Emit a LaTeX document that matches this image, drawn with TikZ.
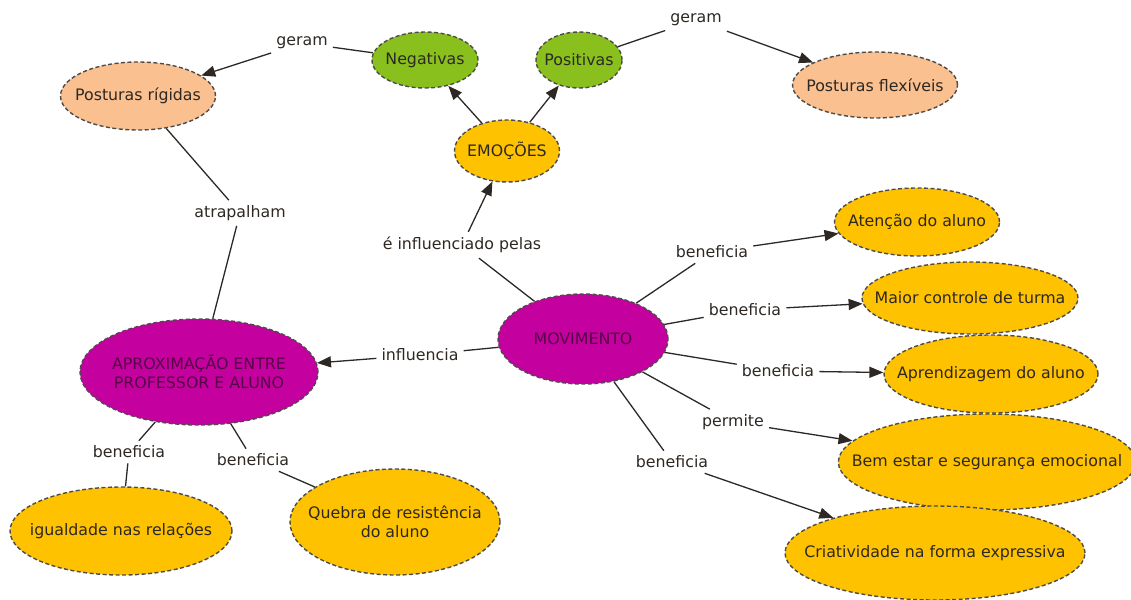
\documentclass[tikz,border=0pt]{standalone}
\usepackage{fontspec}
\setmainfont{DejaVu Sans}
\usetikzlibrary{shapes.geometric,arrows.meta}
\definecolor{peach}{RGB}{250,192,143}
\definecolor{leaf}{RGB}{138,192,30}
\definecolor{gold}{RGB}{255,194,0}
\definecolor{purp}{RGB}{196,0,158}
\definecolor{ink}{RGB}{45,40,35}
\tikzstyle{concept}=[ellipse, draw=black!70, dash pattern=on 4pt off 2.5pt,
line width=1.4pt, inner xsep=-30pt, inner ysep=-8pt, align=center, text=ink,
font=\fontsize{15.8}{19}\selectfont]
\tikzstyle{posture}=[concept, fill=peach]
\tikzstyle{emotion}=[concept, fill=leaf]
\tikzstyle{effect}=[concept, fill=gold]
\tikzstyle{core}=[concept, fill=purp, text={rgb,255:red,85;green,0;blue,70}]
\tikzstyle{linkword}=[inner sep=5pt, text=ink, font=\fontsize{15.8}{19}\selectfont]
\tikzstyle{tie}=[line width=1.3pt, draw=ink]
\tikzstyle{arr}=[tie, -{Triangle[length=14pt,width=11pt]}]

\begin{document}
\begin{tikzpicture}[x=1pt,y=-1pt]
\useasboundingbox (0,0) rectangle (1131,599);
% conceitos
\node[posture, minimum width=155, minimum height=68](rigid)at (138,96){Posturas rígidas};
\node[emotion, minimum width=106, minimum height=56](neg)at (425,60){Negativas};
\node[emotion, minimum width=86, minimum height=56](pos)at (579,60){Positivas};
\node[posture, minimum width=165, minimum height=66](flex)at (875,85){Posturas flexíveis};
\node[effect, minimum width=105, minimum height=62](emo)at (507,151){EMOÇÕES};
\node[core, minimum width=170, minimum height=90](mov)at (583,339){MOVIMENTO};
\node[core, minimum width=238, minimum height=106](aprox)at (199,372){APROXIMAÇÃO ENTRE\\PROFESSOR E ALUNO};
\node[effect, minimum width=165, minimum height=68](aten)at (917,222){Atenção do aluno};
\node[effect, minimum width=216, minimum height=72](contr)at (970,298){Maior controle de turma};
\node[effect, minimum width=214, minimum height=78](aprend)at (991,374){Aprendizagem do aluno};
\node[effect, minimum width=290, minimum height=96](bem)at (987,462){Bem estar e segurança emocional};
\node[effect, minimum width=300, minimum height=94](criat)at (935,553){Criatividade na forma expressiva};
\node[effect, minimum width=222, minimum height=88](igual)at (121,531){igualdade nas relações};
\node[effect, minimum width=210, minimum height=106](quebra)at (395,522){Quebra de resistência\\do aluno};

% palavras de ligacao
\node[linkword](l1)at (302,43){geram};
\node[linkword](l2)at (696,20){geram};
\node[linkword](l3)at (240,213){atrapalham};
\node[linkword](l4)at (462,245){é influenciado pelas};
\node[linkword](l5)at (420,355){influencia};
\node[linkword](l6)at (712,252){beneficia};
\node[linkword](l7)at (745,310){beneficia};
\node[linkword](l8)at (778,371){beneficia};
\node[linkword](l9)at (733,422){permite};
\node[linkword](l10)at (672,462){beneficia};
\node[linkword](l11)at (129,452){beneficia};
\node[linkword](l12)at (253,460){beneficia};

\draw[tie](neg) -- (l1);
\draw[arr](l1) -- (rigid);
\draw[tie](pos) -- (l2);
\draw[arr](l2) -- (flex);
\draw[arr](emo) -- (neg);
\draw[arr](emo) -- (pos);
\draw[tie](rigid) -- (l3);
\draw[tie](l3) -- (aprox);
\draw[tie](mov) -- (l4);
\draw[arr](l4) -- (emo);
\draw[tie](mov) -- (l5);
\draw[arr](l5) -- (aprox);

\draw[tie](mov) -- (l6);
\draw[arr](l6) -- (aten);
\draw[tie](mov) -- (l7);
\draw[arr](l7) -- (contr);
\draw[tie](mov) -- (l8);
\draw[arr](l8) -- (aprend);
\draw[tie](mov) -- (l9);
\draw[arr](l9) -- (bem);
\draw[tie](mov) -- (l10);
\draw[arr](l10) -- (criat);

\draw[tie](aprox) -- (l11);
\draw[tie](l11) -- (igual);
\draw[tie](aprox) -- (l12);
\draw[tie](l12) -- (quebra);
\end{tikzpicture}
\end{document}
